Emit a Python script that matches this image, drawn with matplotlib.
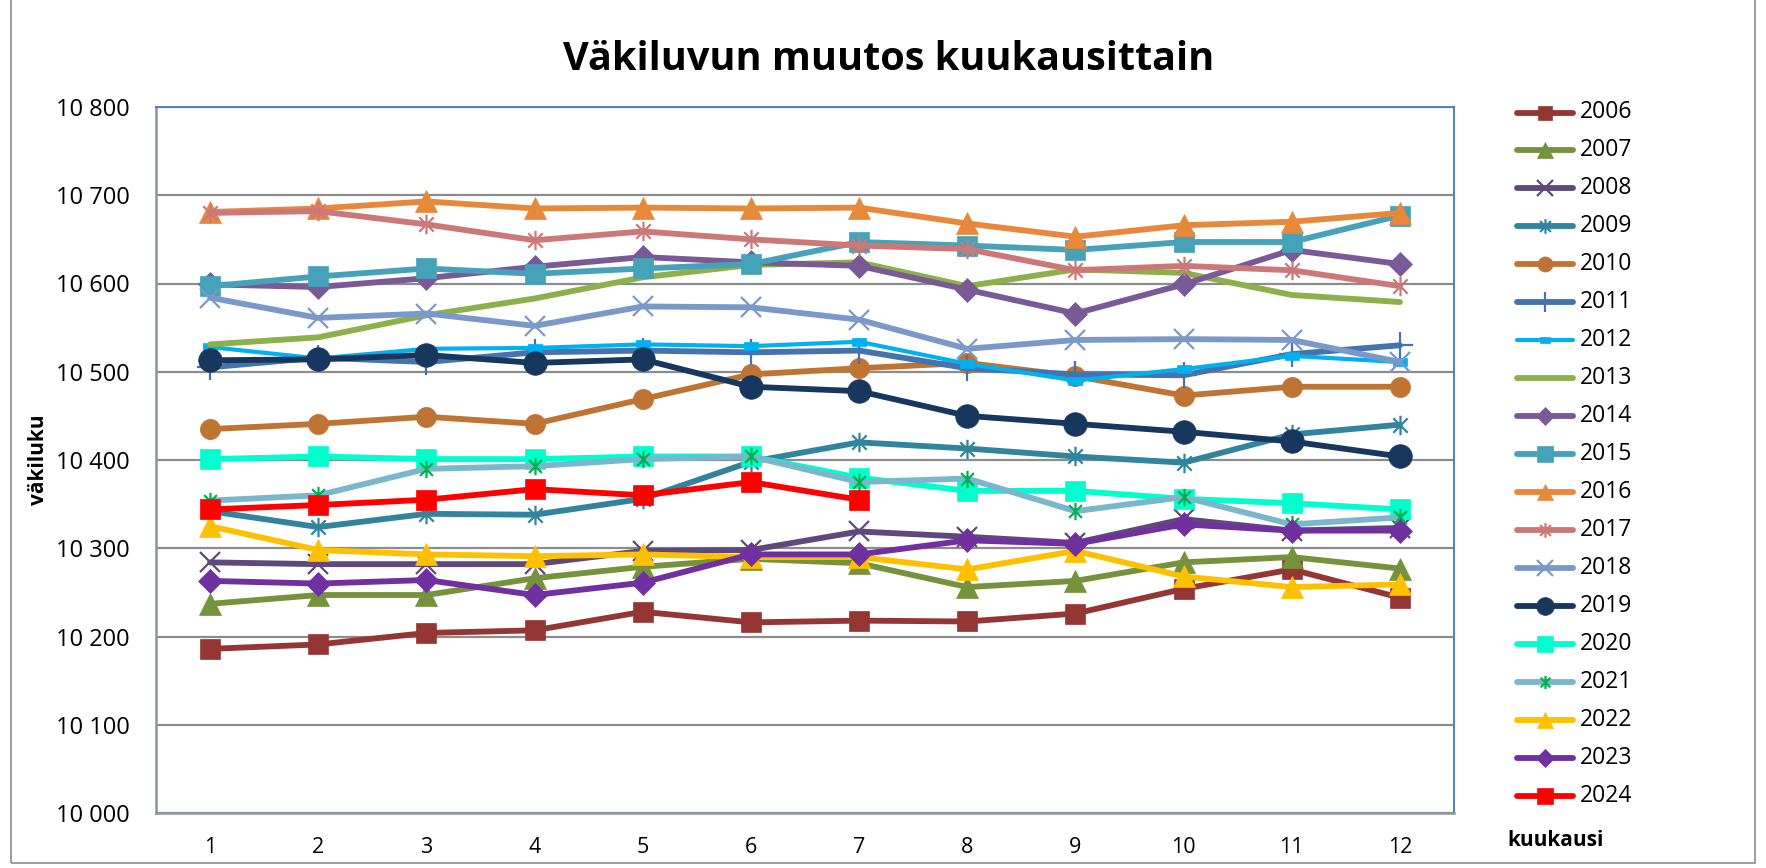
import matplotlib
matplotlib.use("Agg")
import matplotlib.pyplot as plt
from matplotlib.lines import Line2D
from matplotlib.patches import Rectangle
from matplotlib.path import Path
import numpy as np

plt.rcParams['font.family'] = ['Open Sans', 'DejaVu Sans']

months = [1, 2, 3, 4, 5, 6, 7, 8, 9, 10, 11, 12]
years = ["2006", "2007", "2008", "2009", "2010", "2011", "2012", "2013", "2014", "2015",
         "2016", "2017", "2018", "2019", "2020", "2021", "2022", "2023", "2024"]

v2006 = [10186, 10191, 10204, 10207, 10228, 10216, 10218, 10217, 10226, 10254, 10276, 10244]
v2007 = [10237, 10247, 10247, 10266, 10279, 10288, 10283, 10256, 10263, 10284, 10290, 10277]
v2008 = [10284, 10282, 10282, 10282, 10297, 10298, 10319, 10313, 10306, 10333, 10320, 10323]
v2009 = [10342, 10324, 10339, 10338, 10356, 10398, 10420, 10413, 10404, 10397, 10429, 10440]
v2010 = [10435, 10441, 10449, 10441, 10469, 10497, 10504, 10510, 10495, 10473, 10483, 10483]
v2011 = [10505, 10516, 10511, 10522, 10524, 10522, 10524, 10504, 10497, 10496, 10520, 10530]
v2012 = [10528, 10515, 10526, 10527, 10531, 10529, 10534, 10509, 10490, 10503, 10518, 10511]
v2013 = [10531, 10539, 10564, 10583, 10607, 10621, 10624, 10597, 10616, 10612, 10587, 10579]
v2014 = [10599, 10596, 10606, 10619, 10630, 10624, 10620, 10593, 10566, 10599, 10638, 10622]
v2015 = [10597, 10608, 10617, 10611, 10617, 10622, 10647, 10643, 10638, 10647, 10647, 10677]
v2016 = [10681, 10685, 10693, 10685, 10686, 10685, 10686, 10668, 10653, 10666, 10670, 10680]
v2017 = [10680, 10682, 10667, 10649, 10659, 10650, 10643, 10639, 10615, 10620, 10615, 10597]
v2018 = [10584, 10561, 10566, 10552, 10574, 10573, 10559, 10526, 10536, 10537, 10536, 10511]
v2019 = [10513, 10514, 10519, 10510, 10514, 10483, 10478, 10450, 10441, 10432, 10421, 10404]
v2020 = [10401, 10404, 10401, 10401, 10404, 10404, 10380, 10365, 10365, 10356, 10351, 10344]
v2021 = [10354, 10360, 10390, 10393, 10401, 10404, 10375, 10379, 10342, 10358, 10327, 10335]
v2022 = [10325, 10298, 10293, 10291, 10293, 10290, 10290, 10276, 10297, 10268, 10256, 10259]
v2023 = [10263, 10260, 10264, 10247, 10261, 10293, 10293, 10309, 10305, 10327, 10320, 10320]
v2024 = [10344, 10349, 10355, 10367, 10360, 10375, 10355]

series = [v2006, v2007, v2008, v2009, v2010, v2011, v2012, v2013, v2014, v2015,
          v2016, v2017, v2018, v2019, v2020, v2021, v2022, v2023, v2024]

y_ticks = [10000, 10100, 10200, 10300, 10400, 10500, 10600, 10700, 10800]

# custom markers
asterisk = Path([(-1, -1), (1, 1), (-1, 1), (1, -1), (0, -1.35), (0, 1.35)],
                [Path.MOVETO, Path.LINETO, Path.MOVETO, Path.LINETO, Path.MOVETO, Path.LINETO])
dash_rect = Path([(-1, -0.55), (1, -0.55), (1, 0.55), (-1, 0.55), (-1, -0.55)],
                 [Path.MOVETO, Path.LINETO, Path.LINETO, Path.LINETO, Path.CLOSEPOLY])

# style per series: (line color, marker, marker face, marker edge, ms, mew, lw)
styles = [
    ('#943634', 's', '#943634', '#943634', 14, 0.5, 4.2),
    ('#76923C', '^', '#76923C', '#76923C', 15.5, 0.5, 4.2),
    ('#5F497A', 'x', 'none', '#5F497A', 14.5, 1.6, 4.2),
    ('#31849B', asterisk, 'none', '#31849B', 14, 1.6, 4.2),
    ('#BF7434', 'o', '#BF7434', '#BF7434', 14.5, 0.5, 4.2),
    ('#4573AD', '+', 'none', '#4573AD', 19, 1.6, 4.2),
    ('#00B0F0', dash_rect, '#00B0F0', '#00B0F0', 9.5, 0.5, 3.0),
    ('#8DB04A', 'None', 'none', '#8DB04A', 1, 0.5, 4.2),
    ('#795A97', 'D', '#795A97', '#795A97', 12, 0.5, 4.2),
    ('#45A2B9', 's', '#45A2B9', '#45A2B9', 14.5, 0.5, 4.2),
    ('#E8883A', '^', '#E8883A', '#E8883A', 16, 0.5, 4.2),
    ('#CC7878', asterisk, 'none', '#CC7878', 14, 1.6, 4.2),
    ('#7B99C8', 'x', 'none', '#7B99C8', 15, 1.6, 4.2),
    ('#17375E', 'o', '#17375E', '#17375E', 17, 0.5, 4.2),
    ('#00FFCC', 's', '#00FFCC', '#00FFCC', 14.5, 0.5, 4.2),
    ('#7AB7CC', asterisk, 'none', '#00B050', 12.5, 1.6, 4.2),
    ('#FFC000', '^', '#FFC000', '#FFC000', 16, 0.5, 4.2),
    ('#7030A0', 'D', '#7030A0', '#7030A0', 12.5, 0.5, 4.2),
    ('#FF0000', 's', '#FF0000', '#FF0000', 14.5, 0.5, 4.2),
]

W, H = 1766, 868
fig = plt.figure(figsize=(W / 100, H / 100), dpi=100)
fig.patch.set_facecolor('white')

# outer chart frame
fig.add_artist(Rectangle((11 / W, 5 / H), (1755 - 11) / W, (H + 10) / H,
                         transform=fig.transFigure, fill=False,
                         edgecolor='#8C8C8C', linewidth=1.2))

ax_l, ax_r, ax_b, ax_t = 156, 1454, 813, 107
ax = fig.add_axes([ax_l / W, (H - ax_b) / H, (ax_r - ax_l) / W, (ax_b - ax_t) / H])

for vals, st in zip(series, styles):
    col, mk, mfc, mec, ms, mew, lw = st
    x = months[:len(vals)]
    ax.plot(x, vals, color=col, lw=lw, marker=mk, markersize=ms,
            markerfacecolor=mfc, markeredgecolor=mec, markeredgewidth=mew,
            solid_capstyle='round', solid_joinstyle='round', zorder=3)

ax.set_xlim(0.5, 12.5)
ax.set_ylim(10000, 10800)
ax.set_yticks(y_ticks)
ax.set_yticklabels([f"{t:,}".replace(",", " ") for t in y_ticks], fontsize=17)
ax.set_xticks(months)
ax.set_xticklabels([str(m) for m in months], fontsize=15.5)
ax.tick_params(axis='both', length=0)
ax.tick_params(axis='y', pad=19)
ax.tick_params(axis='x', pad=17)
ax.grid(axis='y', color='#8C8C8C', lw=1.6, zorder=1)
ax.set_axisbelow(True)
for s in ['left', 'bottom']:
    ax.spines[s].set_color('#8C96A0')
    ax.spines[s].set_linewidth(1.8)
for s in ['top', 'right']:
    ax.spines[s].set_color('#4F81BD')
    ax.spines[s].set_linewidth(1.4)

# titles and axis labels
fig.text(889 / W, 1 - 59 / H, "Väkiluvun muutos kuukausittain", ha='center', va='center',
         fontsize=28.5, fontweight='bold')
fig.text(39 / W, 1 - 460 / H, "väkiluku", rotation=90, ha='center', va='center',
         fontsize=15, fontweight='bold')
fig.text(1556 / W, 1 - 840 / H, "kuukausi", ha='center', va='center',
         fontsize=15, fontweight='bold')

# legend, drawn manually
lx0, lx1, ltx = 1517, 1573, 1580
ly0, ldy = 112.5, 37.95
for i, (lab, st) in enumerate(zip(years, styles)):
    col, mk, mfc, mec, ms, mew, lw = st
    y = 1 - (ly0 + i * ldy) / H
    xs = [lx0 / W, (lx0 + lx1) / 2 / W, lx1 / W]
    ln = Line2D(xs, [y, y, y], transform=fig.transFigure, color=col, lw=lw,
                marker=mk, markersize=ms * 0.75, markerfacecolor=mfc, markeredgecolor=mec,
                markeredgewidth=mew, markevery=[1], solid_capstyle='round')
    fig.add_artist(ln)
    fig.text(ltx / W, y, lab, ha='left', va='center', fontsize=16.5)

fig.savefig("out.png", dpi=100, facecolor='white')
